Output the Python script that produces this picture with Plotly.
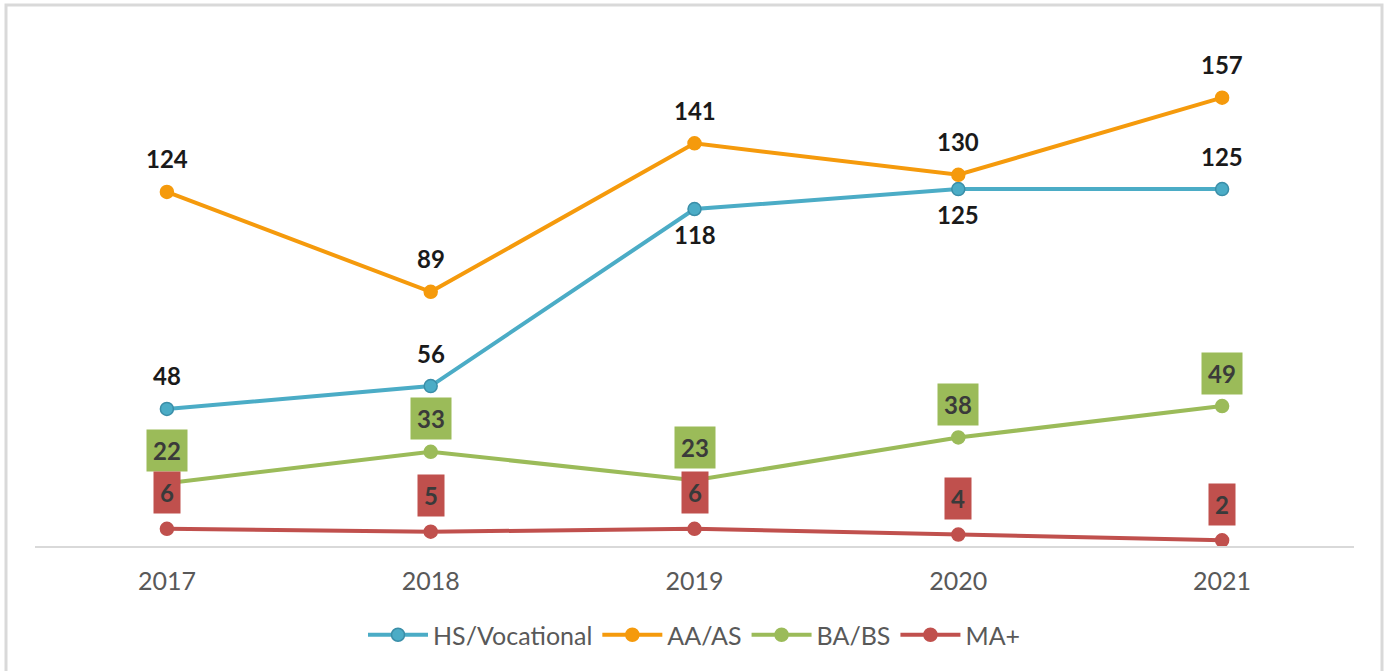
import plotly.graph_objects as go

years = ["2017", "2018", "2019", "2020", "2021"]
hs = [48, 56, 118, 125, 125]
aa = [124, 89, 141, 130, 157]
ba = [22, 33, 23, 38, 49]
ma = [6, 5, 6, 4, 2]

names = ["HS/Vocational", "AA/AS", "BA/BS", "MA+"]
colors = ["#4BACC6", "#F59A0C", "#9BBB59", "#C0504D"]
edge = ["#3A8EA8", "#F59A0C", "#9BBB59", "#C0504D"]
series = [hs, aa, ba, ma]

FONT = "Lato, 'Open Sans', sans-serif"

fig = go.Figure()
for n, c, e, s in zip(names, colors, edge, series):
    fig.add_trace(go.Scatter(
        x=years, y=s, name=n, mode="lines+markers",
        line=dict(color=c, width=4),
        marker=dict(size=13, color=c, line=dict(color=e, width=1.5)),
    ))

# labels (x given as category index)
hs_pos = ["above", "above", "below", "below", "above"]
LS = 24
for i in range(len(years)):
    fig.add_annotation(x=i, y=aa[i], text=f"<b>{aa[i]}</b>", showarrow=False,
                       yshift=33, font=dict(size=LS, color="#1a1a1a", family=FONT))
    fig.add_annotation(x=i, y=hs[i], text=f"<b>{hs[i]}</b>", showarrow=False,
                       yshift=33 if hs_pos[i] == "above" else -25,
                       font=dict(size=LS, color="#1a1a1a", family=FONT))
    fig.add_annotation(x=i, y=ba[i], text=f"<b>{ba[i]}</b>", showarrow=False,
                       yshift=33, bgcolor=colors[2], borderpad=6,
                       font=dict(size=LS, color="#3a3a3a", family=FONT))
    fig.add_annotation(x=i, y=ma[i], text=f"<b>{ma[i]}</b>", showarrow=False,
                       yshift=36, bgcolor=colors[3], borderpad=6,
                       font=dict(size=LS, color="#3a3a3a", family=FONT))

# chart border
L, R, T, B = 35, 31, 32, 125
W, H = 1385, 671
pw, ph = W - L - R, H - T - B
def px(x):
    return (x - L) / pw
def py(y):
    return (H - B - y) / ph
fig.add_shape(type="rect", xref="paper", yref="paper",
              x0=px(6), x1=px(1382), y0=py(690), y1=py(5),
              line=dict(color="#D9D9D9", width=3), fillcolor="rgba(0,0,0,0)", layer="below")

fig.update_layout(
    width=W, height=H,
    margin=dict(l=L, r=R, t=T, b=B),
    plot_bgcolor="white", paper_bgcolor="white",
    font=dict(family=FONT, color="#595959"),
    showlegend=True,
    legend=dict(orientation="h", x=0.5, xanchor="center", y=py(635), yanchor="middle",
                font=dict(size=25, color="#595959", family=FONT), itemwidth=60,
                traceorder="normal"),
    xaxis=dict(type="category", range=[-0.5, 4.5], showgrid=False, zeroline=False,
               showline=True, linecolor="#D9D9D9", linewidth=2,
               tickfont=dict(size=25, color="#595959", family=FONT), ticks="",
               ticklabelstandoff=12),
    yaxis=dict(range=[0, 180], visible=False, showgrid=False, zeroline=False),
)

fig.write_html("out.html", config={"displayModeBar": False},
               post_script="document.body.style.margin='0';document.body.style.overflow='hidden';")
